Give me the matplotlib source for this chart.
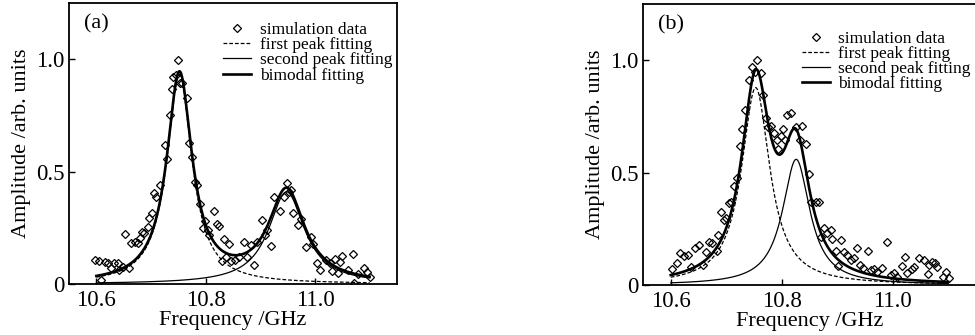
import numpy as np
import matplotlib
matplotlib.use("Agg")
import matplotlib.pyplot as plt

plt.rcParams["font.family"] = ["Liberation Serif", "DejaVu Serif"]

# (a) simulated spectrum
freq_a = [10.598, 10.604, 10.609, 10.615, 10.621, 10.627, 10.633, 10.639, 10.642, 10.648,
          10.653, 10.659, 10.664, 10.670, 10.676, 10.679, 10.684, 10.688, 10.694, 10.697,
          10.702, 10.705, 10.710, 10.716, 10.725, 10.729, 10.734, 10.738, 10.741, 10.746,
          10.750, 10.753, 10.757, 10.765, 10.769, 10.775, 10.780, 10.785, 10.789, 10.795,
          10.798, 10.804, 10.807, 10.815, 10.821, 10.824, 10.829, 10.834, 10.838, 10.842,
          10.847, 10.853, 10.861, 10.870, 10.875, 10.883, 10.889, 10.893, 10.903, 10.908,
          10.913, 10.919, 10.925, 10.936, 10.944, 10.949, 10.953, 10.957, 10.959, 10.969,
          10.975, 10.983, 10.992, 10.997, 11.004, 11.010, 11.021, 11.028, 11.031, 11.037,
          11.042, 11.046, 11.050, 11.061, 11.070, 11.072, 11.078, 11.090, 11.095, 11.101]
amp_a = [0.107, 0.104, 0.018, 0.099, 0.092, 0.070, 0.092, 0.092, 0.062, 0.077,
         0.223, 0.070, 0.181, 0.188, 0.181, 0.203, 0.233, 0.228, 0.255, 0.292,
         0.315, 0.404, 0.389, 0.441, 0.619, 0.556, 0.752, 0.866, 0.920, 0.930,
         0.997, 0.896, 0.893, 0.826, 0.626, 0.564, 0.455, 0.441, 0.356, 0.248,
         0.282, 0.240, 0.218, 0.325, 0.266, 0.260, 0.104, 0.199, 0.119, 0.177,
         0.104, 0.107, 0.122, 0.188, 0.119, 0.174, 0.085, 0.186, 0.285, 0.218,
         0.240, 0.169, 0.389, 0.325, 0.389, 0.451, 0.410, 0.418, 0.315, 0.263,
         0.288, 0.166, 0.208, 0.178, 0.095, 0.062, 0.107, 0.092, 0.059, 0.110,
         0.050, 0.099, 0.125, 0.062, 0.134, 0.003, 0.045, 0.070, 0.055, 0.033]

# (b) simulated spectrum
freq_b = [10.603, 10.611, 10.617, 10.624, 10.631, 10.636, 10.643, 10.651, 10.659, 10.663,
          10.669, 10.675, 10.683, 10.685, 10.691, 10.696, 10.699, 10.705, 10.709, 10.714,
          10.720, 10.725, 10.729, 10.733, 10.741, 10.746, 10.751, 10.756, 10.762, 10.767,
          10.771, 10.775, 10.781, 10.786, 10.791, 10.793, 10.798, 10.803, 10.805, 10.810,
          10.816, 10.825, 10.833, 10.837, 10.843, 10.849, 10.852, 10.861, 10.867, 10.870,
          10.876, 10.882, 10.888, 10.891, 10.897, 10.901, 10.906, 10.912, 10.918, 10.924,
          10.930, 10.936, 10.941, 10.947, 10.955, 10.960, 10.966, 10.972, 10.981, 10.990,
          10.996, 11.002, 11.008, 11.017, 11.022, 11.026, 11.034, 11.038, 11.047, 11.056,
          11.063, 11.065, 11.071, 11.077, 11.080, 11.090, 11.096, 11.102]
amp_b = [0.070, 0.096, 0.144, 0.129, 0.133, 0.081, 0.163, 0.178, 0.089, 0.148,
         0.192, 0.188, 0.152, 0.222, 0.326, 0.289, 0.296, 0.366, 0.370, 0.440,
         0.474, 0.618, 0.696, 0.778, 0.914, 0.970, 0.948, 1.000, 0.944, 0.844,
         0.741, 0.701, 0.707, 0.674, 0.644, 0.607, 0.662, 0.692, 0.644, 0.756,
         0.766, 0.704, 0.644, 0.707, 0.627, 0.493, 0.370, 0.370, 0.370, 0.215,
         0.252, 0.230, 0.244, 0.203, 0.152, 0.084, 0.200, 0.148, 0.133, 0.111,
         0.119, 0.163, 0.089, 0.074, 0.152, 0.067, 0.070, 0.059, 0.074, 0.192,
         0.044, 0.052, 0.034, 0.084, 0.126, 0.055, 0.070, 0.081, 0.119, 0.111,
         0.049, 0.089, 0.104, 0.096, 0.081, 0.034, 0.059, 0.030]

# Lorentzian fit parameters: [first peak, second peak]
center_a = [10.752, 10.948]
width_a = [0.028, 0.040]
height_a = [0.93, 0.41]

center_b = [10.753, 10.826]
width_b = [0.031, 0.030]
height_b = [0.878, 0.559]

fit_start, fit_stop = 10.6, 11.1


def lorentz(f, f0, g, h):
    return h * g ** 2 / ((f - f0) ** 2 + g ** 2)


def draw_panel(ax, freq, amp, centers, widths, heights, tag, leg_anchor):
    f = np.linspace(fit_start, fit_stop, 600)
    p1 = lorentz(f, centers[0], widths[0], heights[0])
    p2 = lorentz(f, centers[1], widths[1], heights[1])

    ax.plot(freq, amp, linestyle="none", marker="D", ms=4.4, mfc="none",
            mec="black", mew=0.9, label="simulation data", zorder=4)
    ax.plot(f, p1, "--", color="black", lw=0.9, dashes=(3, 1.6),
            label="first peak fitting")
    ax.plot(f, p2, "-", color="black", lw=0.9, label="second peak fitting")
    ax.plot(f, p1 + p2, "-", color="black", lw=1.9, label="bimodal fitting")

    ax.set_xlim(10.55, 11.15)
    ax.set_ylim(0, 1.25)
    ax.set_xticks([10.6, 10.8, 11.0])
    ax.set_xticklabels(["10.6", "10.8", "11.0"])
    ax.set_yticks([0, 0.5, 1.0])
    ax.set_yticklabels(["0", "0.5", "1.0"])
    ax.tick_params(direction="in", length=4, width=1, labelsize=16.5, pad=3)
    ax.tick_params(axis="x", pad=4)
    for s in ax.spines.values():
        s.set_linewidth(1.3)

    ax.set_xlabel("Frequency /GHz", fontsize=16, labelpad=0)
    ax.set_ylabel("Amplitude /arb. units", fontsize=16, labelpad=4)
    ax.text(0.045, 0.925, tag, transform=ax.transAxes, fontsize=16,
            va="center", ha="left")

    ax.legend(loc="upper left", bbox_to_anchor=leg_anchor, frameon=False,
              fontsize=12.5, numpoints=1, handlelength=1.6, handletextpad=0.5,
              labelspacing=-0.06, borderpad=0, borderaxespad=0)


fig = plt.figure(figsize=(9.75, 3.35), dpi=100)
ax1 = fig.add_axes([69 / 975, 51 / 335, 328 / 975, 281 / 335])
ax2 = fig.add_axes([643 / 975, 50 / 335, 333 / 975, 281 / 335])

draw_panel(ax1, freq_a, amp_a, center_a, width_a, height_a, "(a)", (0.47, 0.932))
draw_panel(ax2, freq_b, amp_b, center_b, width_b, height_b, "(b)", (0.477, 0.905))

fig.savefig("out.png", dpi=100)
